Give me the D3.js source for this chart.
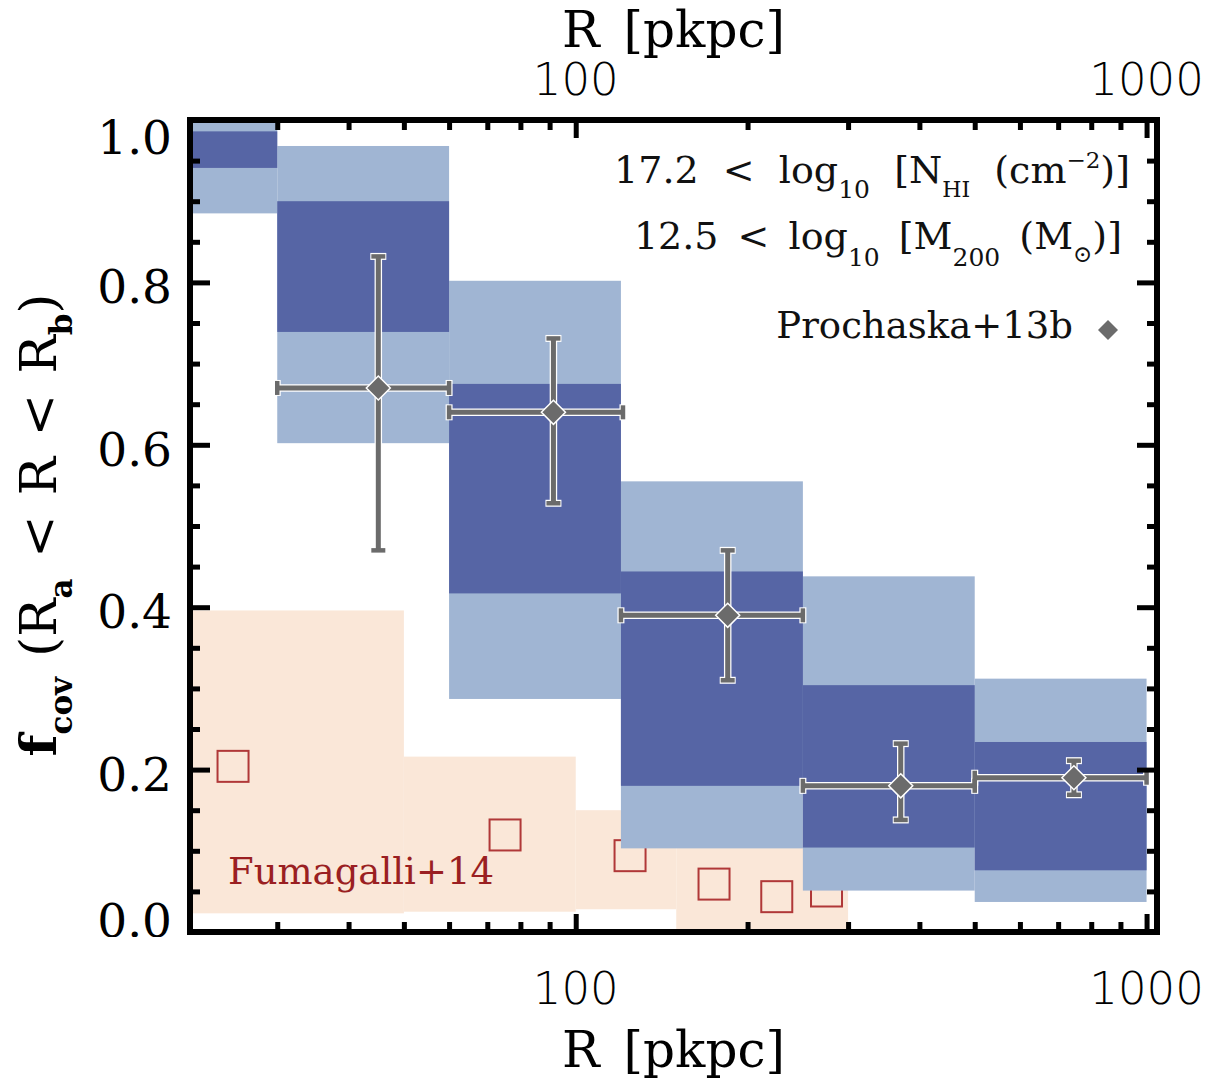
<!DOCTYPE html>
<html>
<head>
<meta charset="utf-8">
<script src="https://cdn.jsdelivr.net/npm/d3@7"></script>
<style>
  body { margin: 0; background: #fff; }
  svg { display: block; }
  text { white-space: pre; }
  .serif { font-family: 'DejaVu Serif', serif; }
  .sans { font-family: 'DejaVu Sans', sans-serif; font-weight: 300; }
</style>
</head>
<body>
<div id="chart"></div>
<script>
// blue bins: covering fraction, light = outer interval, dark = inner interval
const binLo = [20, 30, 60, 120, 250, 500]
const binHi = [30, 60, 120, 250, 500, 1000]
const lightHi = [1.0, 0.968, 0.802, 0.555, 0.438, 0.312]
const lightLo = [0.885, 0.602, 0.287, 0.103, 0.051, 0.037]
const darkHi = [0.986, 0.900, 0.675, 0.444, 0.304, 0.234]
const darkLo = [0.941, 0.739, 0.417, 0.180, 0.104, 0.076]

// Prochaska+13b points
const pR = [45.1, 91.4, 184.6, 371, 746]
const pRlo = [30, 60, 120, 250, 500]
const pRhi = [60, 121, 250, 500, 1000]
const pF = [0.670, 0.640, 0.390, 0.180, 0.190]
const pFlo = [0.470, 0.528, 0.310, 0.138, 0.169]
const pFhi = [0.832, 0.731, 0.470, 0.232, 0.211]

// Fumagalli+14 bands and points
const fLo = [20, 50, 100, 150]
const fHi = [50, 100, 150, 300]
const fTop = [0.396, 0.216, 0.150, 0.13]
const fBot = [0.023, 0.025, 0.028, 0.0]
const fR = [25.1, 75.2, 124.5, 174.7, 225, 275]
const fF = [0.204, 0.1195, 0.094, 0.059, 0.0435, 0.0505]

// ticks
const xMajor = [100, 1000]
const xMinor = [30, 40, 50, 60, 70, 80, 90, 200, 300, 400, 500, 600, 700, 800, 900]
const yMajor = [0, 0.2, 0.4, 0.6, 0.8, 1.0]
const yMinor = d3.range(0, 1.0001, 0.05).filter(v => Math.abs(v*5 - Math.round(v*5)) > 1e-6)

const W = 1211, H = 1083
const margin = {top: 120, right: 54, bottom: 151, left: 190}
const pw = W - margin.left - margin.right
const ph = H - margin.top - margin.bottom

const colDark = '#5665a5', colLight = '#a0b5d3', colPeach = '#fae7d8'
const colGray = '#6b6b6b', colRed = '#b03838', colRedText = '#9a1f22'

const svg = d3.select('#chart').append('svg')
  .attr('width', W)
  .attr('height', H)

const x = d3.scaleLog().domain([21.1, 1043]).range([0, pw])
const y = d3.scaleLinear().domain([0, 1]).range([ph, 0])

const g = svg.append('g')
  .attr('transform', `translate(${margin.left}, ${margin.top})`)

svg.append('clipPath').attr('id', 'plotclip')
  .append('rect').attr('x', 0).attr('y', 0).attr('width', pw).attr('height', ph)

const plot = g.append('g').attr('clip-path', 'url(#plotclip)')

// peach bands
plot.selectAll('.fband')
  .data(d3.range(fLo.length))
  .enter().append('rect')
  .attr('x', i => x(fLo[i]))
  .attr('width', i => x(fHi[i]) - x(fLo[i]))
  .attr('y', i => y(fTop[i]))
  .attr('height', i => y(fBot[i]) - y(fTop[i]))
  .style('fill', colPeach)

// Fumagalli squares
const sq = 31
plot.selectAll('.fsq')
  .data(d3.range(fR.length))
  .enter().append('rect')
  .attr('x', i => x(fR[i]) - sq/2)
  .attr('y', i => y(fF[i]) - sq/2)
  .attr('width', sq)
  .attr('height', sq)
  .style('fill', 'none')
  .style('stroke', colRed)
  .style('stroke-width', 2)

// blue bins
const bins = d3.range(binLo.length)
plot.selectAll('.light')
  .data(bins)
  .enter().append('rect')
  .attr('x', i => x(binLo[i]))
  .attr('width', i => x(binHi[i]) - x(binLo[i]))
  .attr('y', i => y(lightHi[i]))
  .attr('height', i => y(lightLo[i]) - y(lightHi[i]))
  .style('fill', colLight)
plot.selectAll('.dark')
  .data(bins)
  .enter().append('rect')
  .attr('x', i => x(binLo[i]))
  .attr('width', i => x(binHi[i]) - x(binLo[i]))
  .attr('y', i => y(darkHi[i]))
  .attr('height', i => y(darkLo[i]) - y(darkHi[i]))
  .style('fill', colDark)

// Prochaska error bars
const pts = d3.range(pR.length)
function drawBars(sel, color, wLine, wCap, capLen) {
  sel.selectAll(null).data(pts).enter().append('line')
    .attr('x1', i => x(pRlo[i])).attr('x2', i => x(pRhi[i]))
    .attr('y1', i => y(pF[i])).attr('y2', i => y(pF[i]))
    .style('stroke', color).style('stroke-width', wLine)
  sel.selectAll(null).data(pts).enter().append('line')
    .attr('x1', i => x(pR[i])).attr('x2', i => x(pR[i]))
    .attr('y1', i => y(pFlo[i])).attr('y2', i => y(pFhi[i]))
    .style('stroke', color).style('stroke-width', wLine)
  // caps
  ;[pFlo, pFhi].forEach(arr => {
    sel.selectAll(null).data(pts).enter().append('line')
      .attr('x1', i => x(pR[i]) - capLen/2).attr('x2', i => x(pR[i]) + capLen/2)
      .attr('y1', i => y(arr[i])).attr('y2', i => y(arr[i]))
      .style('stroke', color).style('stroke-width', wCap)
  })
  ;[pRlo, pRhi].forEach(arr => {
    sel.selectAll(null).data(pts).enter().append('line')
      .attr('x1', i => x(arr[i])).attr('x2', i => x(arr[i]))
      .attr('y1', i => y(pF[i]) - capLen/2).attr('y2', i => y(pF[i]) + capLen/2)
      .style('stroke', color).style('stroke-width', wCap)
  })
}
const eb = g.append('g')
drawBars(eb, '#ffffff', 7.5, 7, 16)
drawBars(eb, colGray, 5, 4.5, 14)
const dsize = 12
eb.selectAll('.diam')
  .data(pts)
  .enter().append('path')
  .attr('d', i => {
    const cx = x(pR[i]), cy = y(pF[i])
    return `M${cx},${cy-dsize}L${cx+dsize},${cy}L${cx},${cy+dsize}L${cx-dsize},${cy}Z`
  })
  .style('fill', colGray)
  .style('stroke', '#fff')
  .style('stroke-width', 1.5)

// axes: ticks inward
function tickAxis(axisFn, vals, len, transform) {
  g.append('g')
    .attr('transform', transform)
    .call(axisFn.tickValues(vals).tickSize(len).tickFormat(''))
    .call(s => s.select('.domain').remove())
    .call(s => s.selectAll('line').style('stroke', '#000').style('stroke-width', 5))
}
tickAxis(d3.axisBottom(x), xMajor, 18, 'translate(0,0)')
tickAxis(d3.axisBottom(x), xMinor, 10, 'translate(0,0)')
tickAxis(d3.axisTop(x), xMajor, 18, `translate(0,${ph})`)
tickAxis(d3.axisTop(x), xMinor, 10, `translate(0,${ph})`)
tickAxis(d3.axisRight(y), yMajor, 20, 'translate(0,0)')
tickAxis(d3.axisRight(y), yMinor, 10, 'translate(0,0)')
tickAxis(d3.axisLeft(y), yMajor, 20, `translate(${pw},0)`)
tickAxis(d3.axisLeft(y), yMinor, 10, `translate(${pw},0)`)

g.append('rect')
  .attr('x', 0).attr('y', 0).attr('width', pw).attr('height', ph)
  .style('fill', 'none').style('stroke', '#000').style('stroke-width', 6)

// y tick labels
svg.append('clipPath').attr('id', 'ylabclip')
  .append('rect').attr('x', 0).attr('y', 0).attr('width', margin.left).attr('height', margin.top + ph + 5)
const ylab = svg.append('g').attr('clip-path', 'url(#ylabclip)')
ylab.selectAll('.ylab')
  .data(yMajor)
  .enter().append('text')
  .attr('class', 'serif')
  .attr('x', 172)
  .attr('y', d => {
    if (d === 1) return margin.top + 34
    if (d === 0) return margin.top + y(d) + 5
    return margin.top + y(d) + 21
  })
  .style('text-anchor', 'end')
  .style('font-size', '47px')
  .style('fill', '#000')
  .text(d => d.toFixed(1))

// x tick labels, bottom and top
;[1004, 95].forEach(by => {
  svg.selectAll(null)
    .data(xMajor)
    .enter().append('text')
    .attr('class', 'sans')
    .attr('x', d => margin.left + x(d))
    .attr('y', by)
    .style('text-anchor', 'middle')
    .style('font-size', '45px')
    .style('fill', '#000')
    .text(d => d)
})

// x titles
;[1067, 47].forEach(by => {
  svg.append('text')
    .attr('class', 'serif')
    .attr('x', margin.left + pw/2)
    .attr('y', by)
    .style('text-anchor', 'middle')
    .style('font-size', '50px')
    .style('word-spacing', '8px')
    .text('R [pkpc]')
})

// y title
const yt = svg.append('text')
  .attr('class', 'serif')
  .attr('transform', 'translate(56, 525) rotate(-90)')
  .style('text-anchor', 'middle')
  .style('font-size', '51px')
  .style('word-spacing', '4px')
const subs = (t, s) => { t.append('tspan').attr('dy', 16).style('font-size', '31px').style('font-weight', 'bold').text(s) }
yt.append('tspan').style('font-weight', 'bold').text('f')
subs(yt, 'cov')
yt.append('tspan').attr('dy', -16).text(' (R')
subs(yt, 'a')
yt.append('tspan').attr('dy', -16).text(' < R < R')
subs(yt, 'b')
yt.append('tspan').attr('dy', -16).text(')')

// annotations top right
const fs = 38
const a1 = svg.append('text').attr('class', 'serif')
  .attr('x', 1130).attr('y', 183)
  .style('text-anchor', 'end').style('font-size', fs + 'px').style('fill', '#111')
a1.append('tspan').text('17.2  <  log')
a1.append('tspan').attr('dy', 15).style('font-size', '25px').text('10')
a1.append('tspan').attr('dy', -15).text('  [N')
a1.append('tspan').attr('dy', 14).style('font-size', '22px').text('HI')
a1.append('tspan').attr('dy', -14).text('  (cm')
a1.append('tspan').attr('dy', -15).style('font-size', '23px').text('−2')
a1.append('tspan').attr('dy', 15).text(')]')

const a2 = svg.append('text').attr('class', 'serif')
  .attr('x', 1122).attr('y', 249)
  .style('text-anchor', 'end').style('font-size', fs + 'px').style('fill', '#111')
  .style('word-spacing', '7px')
a2.append('tspan').text('12.5 < log')
a2.append('tspan').attr('dy', 17).style('font-size', '25px').text('10')
a2.append('tspan').attr('dy', -17).text(' [M')
a2.append('tspan').attr('dy', 17).style('font-size', '25px').text('200')
a2.append('tspan').attr('dy', -17).text(' (M')
a2.append('tspan').attr('dy', 13).style('font-size', '23px').text('⊙')
a2.append('tspan').attr('dy', -13).text(')]')

svg.append('text').attr('class', 'serif')
  .attr('x', 1073).attr('y', 338)
  .style('text-anchor', 'end').style('font-size', '37px').style('fill', '#111')
  .text('Prochaska+13b')
svg.append('path')
  .attr('d', 'M1108,320L1118,330L1108,340L1098,330Z')
  .style('fill', colGray)

svg.append('text').attr('class', 'serif')
  .attr('x', 228).attr('y', 884)
  .style('font-size', '37px').style('fill', colRedText)
  .text('Fumagalli+14')
</script>
</body>
</html>
